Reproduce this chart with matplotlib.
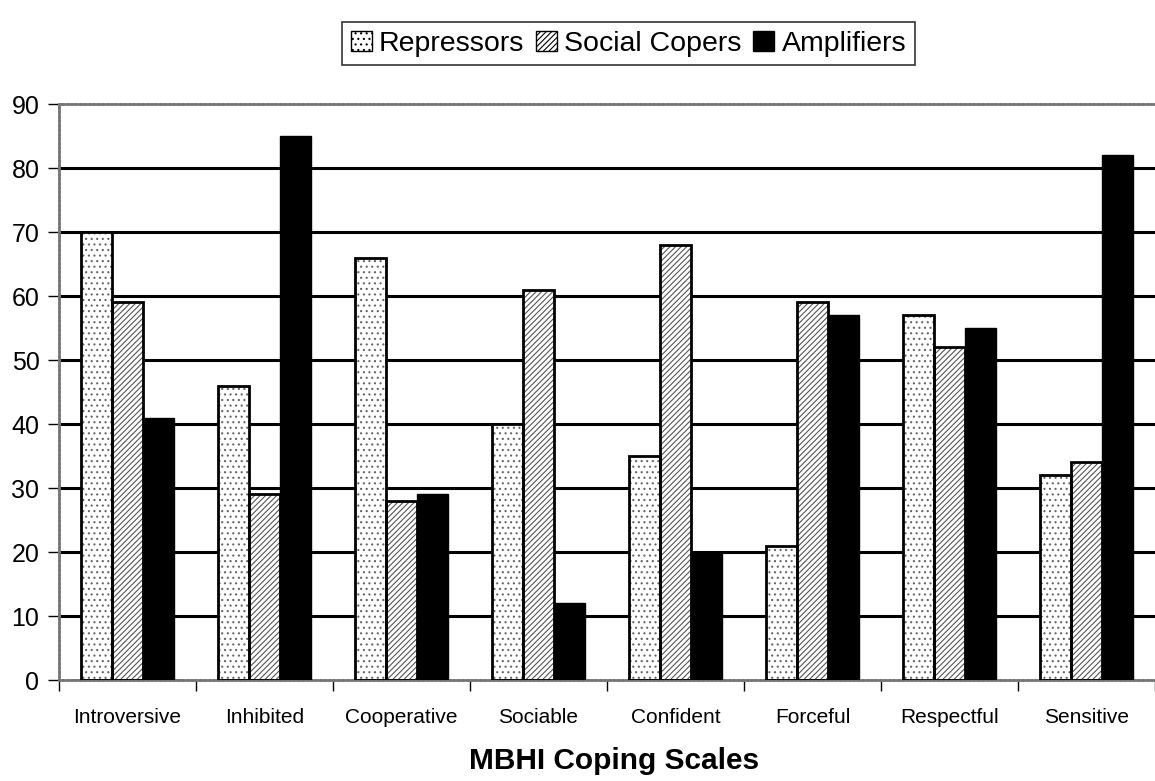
import numpy as np
import matplotlib as mpl
import matplotlib.pyplot as plt
from matplotlib.ticker import FixedLocator

mpl.rcParams['font.family'] = ['Liberation Sans', 'DejaVu Sans']
mpl.rcParams['hatch.linewidth'] = 0.8

scales = ['Introversive', 'Inhibited', 'Cooperative', 'Sociable',
          'Confident', 'Forceful', 'Respectful', 'Sensitive']
repressors = [70, 46, 66, 40, 35, 21, 57, 32]
social_copers = [59, 29, 28, 61, 68, 59, 52, 34]
amplifiers = [41, 85, 29, 12, 20, 57, 55, 82]
y_ticks = [0, 10, 20, 30, 40, 50, 60, 70, 80, 90]

fig = plt.figure(figsize=(11.55, 7.81), dpi=100)
ax = fig.add_axes([0.051, 0.1293, 0.949, 0.7375])

x = np.arange(len(scales))
w = 0.226

# horizontal grid lines, black, behind bars
for y in y_ticks[1:-1]:
    ax.axhline(y, color='black', lw=2.2, zorder=1)

# patterns drawn in grey first, then black outlines on top
ax.bar(x - w, repressors, width=w, facecolor='white', edgecolor='#666666',
       hatch='...', lw=0, zorder=2)
ax.bar(x, social_copers, width=w, facecolor='white', edgecolor='#555555',
       hatch='//////', lw=0, zorder=2)
ax.bar(x - w, repressors, width=w, facecolor='none', edgecolor='black',
       lw=2, zorder=3)
ax.bar(x, social_copers, width=w, facecolor='none', edgecolor='black',
       lw=2, zorder=3)
ax.bar(x + w, amplifiers, width=w, facecolor='black', edgecolor='black',
       lw=1, zorder=3)

# legend proxies
h1 = ax.bar([0], [0], facecolor='white', edgecolor='black', hatch='...', lw=1, label='Repressors')
h2 = ax.bar([0], [0], facecolor='white', edgecolor='black', hatch='//////', lw=1, label='Social Copers')
h3 = ax.bar([0], [0], facecolor='black', edgecolor='black', lw=1, label='Amplifiers')

ax.set_xlim(-0.5, len(scales) - 0.5)
ax.set_ylim(0, 90)
ax.set_yticks(y_ticks)
ax.tick_params(axis='y', labelsize=18, length=8, width=1, direction='out', pad=6)

ax.set_xticks(x)
ax.set_xticklabels(scales, fontsize=15)
ax.tick_params(axis='x', which='major', length=0, pad=20)
ax.xaxis.set_minor_locator(FixedLocator(np.arange(-0.5, len(scales), 1.0)))
ax.tick_params(axis='x', which='minor', length=8, width=1, direction='out')

for side in ['top', 'left', 'bottom']:
    ax.spines[side].set_color('#777777')
    ax.spines[side].set_linestyle((0, (1, 0.6)))
    ax.spines[side].set_linewidth(2)
ax.spines['right'].set_visible(False)

fig.text(0.532, 0.008, 'MBHI Coping Scales', fontsize=21.5, fontweight='bold',
         ha='center', va='bottom')

leg = fig.legend(handles=[h1, h2, h3], loc='center', bbox_to_anchor=(0.544, 0.944),
                 ncol=3, fontsize=20.5, frameon=True, fancybox=False, edgecolor='black',
                 handlelength=0.75, handleheight=0.75, handletextpad=0.25,
                 columnspacing=0.4, borderpad=0.3)
leg.get_frame().set_linewidth(1.2)

fig.savefig('out.png', dpi=100)
